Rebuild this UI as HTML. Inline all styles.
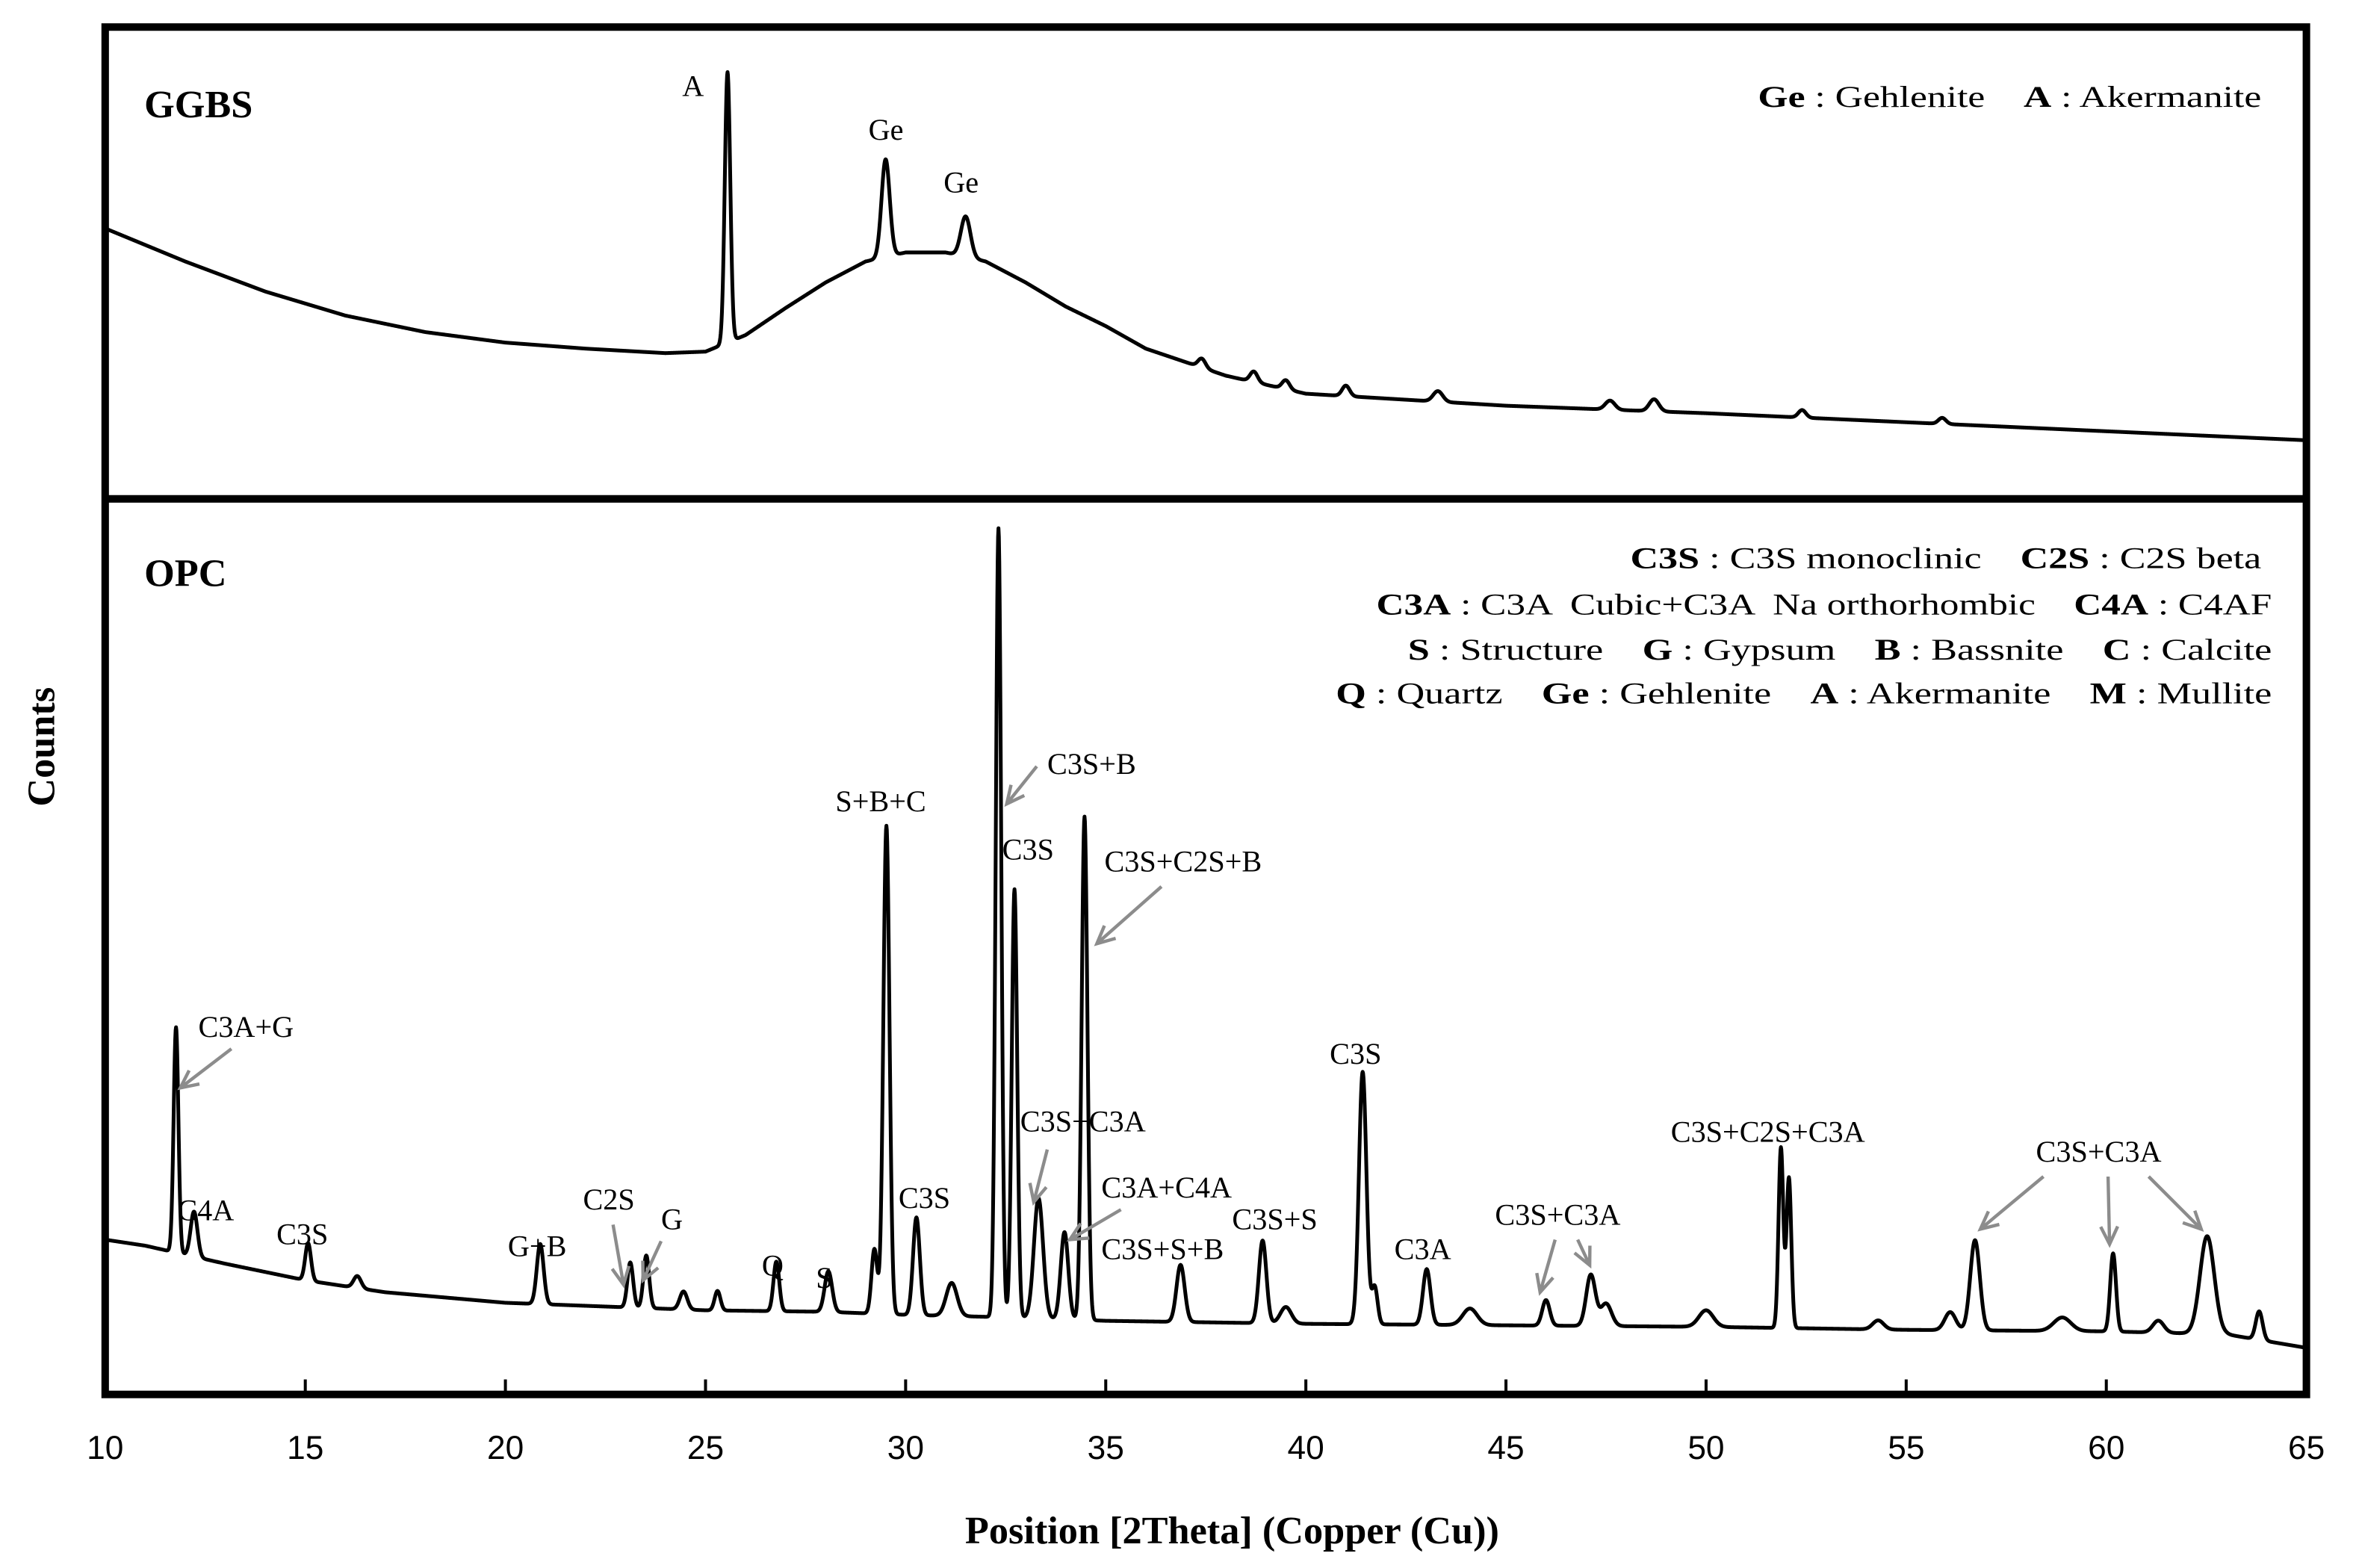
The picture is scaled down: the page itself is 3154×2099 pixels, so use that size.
<!DOCTYPE html>
<html><head><meta charset="utf-8"><style>
html,body{margin:0;padding:0;background:#fff}
svg{display:block}
text{font-family:"Liberation Serif",serif;fill:#000;white-space:pre}
</style></head><body>
<svg id="chart" width="3154" height="2099" viewBox="0 0 1568 1043.5" xmlns="http://www.w3.org/2000/svg" xml:space="preserve">
<g id="traces"></g>
<g id="arrows" stroke="#8c8c8c" stroke-width="2.2" fill="none"></g>
<rect x="70" y="18" width="1465" height="910" fill="none" stroke="#000" stroke-width="5"/>
<line x1="70" y1="332" x2="1535" y2="332" stroke="#000" stroke-width="5"/>
<g id="ticks"></g>
<text x="96" y="78" font-size="26" font-weight="bold">GGBS</text>
<text x="96" y="390" font-size="26" font-weight="bold">OPC</text>
<text x="1170" y="71" font-size="20" textLength="335" lengthAdjust="spacingAndGlyphs"><tspan font-weight="bold">Ge</tspan> : Gehlenite    <tspan font-weight="bold">A</tspan> : Akermanite</text>
<g font-size="20">
<text x="1085" y="378" textLength="420" lengthAdjust="spacingAndGlyphs"><tspan font-weight="bold">C3S</tspan> : C3S monoclinic    <tspan font-weight="bold">C2S</tspan> : C2S beta</text>
<text x="916" y="409" textLength="596" lengthAdjust="spacingAndGlyphs"><tspan font-weight="bold">C3A</tspan> : C3A  Cubic+C3A  Na orthorhombic    <tspan font-weight="bold">C4A</tspan> : C4AF</text>
<text x="937" y="439" textLength="575" lengthAdjust="spacingAndGlyphs"><tspan font-weight="bold">S</tspan> : Structure    <tspan font-weight="bold">G</tspan> : Gypsum    <tspan font-weight="bold">B</tspan> : Bassnite    <tspan font-weight="bold">C</tspan> : Calcite</text>
<text x="889" y="468" textLength="623" lengthAdjust="spacingAndGlyphs"><tspan font-weight="bold">Q</tspan> : Quartz    <tspan font-weight="bold">Ge</tspan> : Gehlenite    <tspan font-weight="bold">A</tspan> : Akermanite    <tspan font-weight="bold">M</tspan> : Mullite</text>
</g>
<g id="labels" font-size="20"></g>
<text x="820" y="1027" font-size="26" font-weight="bold" text-anchor="middle">Position [2Theta] (Copper (Cu))</text>
<text transform="translate(36,497) rotate(-90)" font-size="26" font-weight="bold" text-anchor="middle">Counts</text>
</svg>
<script>
// ---- data ----
const xTicks = [10,15,20,25,30,35,40,45,50,55,60,65];
const ggbsBaseX = [10,12,14,16,18,20,22,24,25,26,27,28,29,30,31,32,33,34,35,36,38,40,45,50,55,60,65];
const ggbsBaseY = [1780,1560,1360,1200,1090,1020,980,950,960,1070,1250,1420,1560,1620,1620,1560,1420,1260,1130,980,800,680,600,550,490,430,370];
const ggbsPeakX = [25.55,29.5,31.5,37.4,38.7,39.5,41.0,43.3,47.6,48.7,52.4,55.9];
const ggbsPeakH = [1800,650,270,60,70,60,70,70,60,80,50,40];
const ggbsPeakW = [0.16,0.24,0.28,0.22,0.22,0.22,0.22,0.28,0.28,0.28,0.22,0.22];
const opcBaseX = [10,11,12,13,15,17,20,23,25,28,30,33,35,40,45,50,55,60,63,65];
const opcBaseY = [800,760,700,640,530,450,380,350,330,320,300,280,260,240,230,220,200,190,170,80];
const opcPeakX = [11.77,12.22,15.07,16.3,20.87,23.12,23.52,24.45,25.3,26.77,28.07,29.22,29.52,30.27,31.15,32.32,32.72,33.32,33.97,34.47,36.87,38.92,39.5,41.42,41.72,43.02,44.1,46.0,47.12,47.5,50.0,51.87,52.07,54.3,56.1,56.72,58.9,60.17,61.3,62.52,63.82];
const opcPeakH = [1500,300,250,80,400,300,350,120,130,330,270,430,3250,650,220,5250,2850,800,580,3350,380,550,110,1680,250,370,110,170,340,150,110,1200,1000,60,120,600,90,520,80,650,190];
const opcPeakW = [0.14,0.2,0.17,0.22,0.2,0.17,0.17,0.22,0.17,0.17,0.22,0.17,0.18,0.2,0.32,0.16,0.16,0.27,0.22,0.17,0.24,0.22,0.32,0.22,0.17,0.22,0.42,0.22,0.27,0.32,0.42,0.14,0.14,0.32,0.32,0.28,0.5,0.17,0.32,0.42,0.2];
const labelText = ["A","Ge","Ge","C3A+G","C4A","C3S","G+B","C2S","G","Q","S","S+B+C","C3S","C3S+B","C3S","C3S+C2S+B","C3S+C3A","C3A+C4A","C3S+S+B","C3S+S","C3S","C3A","C3S+C3A","C3S+C2S+C3A","C3S+C3A"];
const labelX = [454,578,628,132,118,184,338,388,440,507,543,556,598,697,667,735,679,733,733,820,885,928,995,1112,1355];
const labelY = [64,93,128,690,812,828,836,805,818,849,857,540,804,515,572,580,753,797,838,818,708,838,815,760,773];
const arrowFrom = [[154,698],[408,815],[440,826],[690,510],[773,590],[697,765],[746,805],[1035,825],[1050,825],[1360,783],[1403,783],[1430,783]];
const arrowTo = [[120,724],[415,855],[428,852],[670,535],[730,628],[688,800],[712,825],[1025,860],[1058,842],[1318,818],[1404,828],[1465,818]];

// ---- axes ----
const xs = v => 70 + (v-10)*(1465/55);
const yG = c => 330 - c*0.1;
const yO = c => 905 - c*0.1;
const NS='http://www.w3.org/2000/svg';
function interp(xa,ya,x){for(let i=0;i<xa.length-1;i++){if(x<=xa[i+1]){const t=(x-xa[i])/(xa[i+1]-xa[i]);return ya[i]+t*(ya[i+1]-ya[i]);}}return ya[ya.length-1];}
function curve(bx,by,px,ph,pw,x){let v=interp(bx,by,x);for(let i=0;i<px.length;i++){const d=(x-px[i])/pw[i];v+=ph[i]*Math.exp(-4*Math.LN2*d*d);}return v;}
function trace(bx,by,px,ph,pw,ys,name){let d='';for(let x=10.02;x<=64.98;x+=0.01){d+=(d?'L':'M')+xs(x).toFixed(2)+','+ys(curve(bx,by,px,ph,pw,x)).toFixed(2);}
const p=document.createElementNS(NS,'path');p.setAttribute('d',d);p.setAttribute('fill','none');p.setAttribute('stroke','#000');p.setAttribute('stroke-width','2.5');p.setAttribute('stroke-linejoin','round');


document.getElementById('traces').appendChild(p);}
trace(ggbsBaseX,ggbsBaseY,ggbsPeakX,ggbsPeakH,ggbsPeakW,yG,'ggbs-trace');
trace(opcBaseX,opcBaseY,opcPeakX,opcPeakH,opcPeakW,yO,'opc-trace');

const tg=document.getElementById('ticks');
xTicks.forEach(t=>{
const l=document.createElementNS(NS,'line');l.setAttribute('x1',xs(t));l.setAttribute('x2',xs(t));l.setAttribute('y1',928);l.setAttribute('y2',918);l.setAttribute('stroke','#000');l.setAttribute('stroke-width','2');


tg.appendChild(l);
const tx=document.createElementNS(NS,'text');tx.setAttribute('x',xs(t));tx.setAttribute('y',971);tx.setAttribute('text-anchor','middle');tx.setAttribute('font-size','22');tx.setAttribute('style','font-family:"Liberation Sans",sans-serif');tx.textContent=t;


tg.appendChild(tx);});

const lg=document.getElementById('labels');
labelText.forEach((s,i)=>{const t=document.createElementNS(NS,'text');t.setAttribute('x',labelX[i]);t.setAttribute('y',labelY[i]);t.textContent=s;


lg.appendChild(t);});

const ag=document.getElementById('arrows');
arrowFrom.forEach((f,i)=>{const e=arrowTo[i];const ang=Math.atan2(e[1]-f[1],e[0]-f[0]);const L=13,a=0.45;
const d='M'+f[0]+','+f[1]+'L'+e[0]+','+e[1]+'M'+(e[0]-L*Math.cos(ang-a))+','+(e[1]-L*Math.sin(ang-a))+'L'+e[0]+','+e[1]+'L'+(e[0]-L*Math.cos(ang+a))+','+(e[1]-L*Math.sin(ang+a));
const p=document.createElementNS(NS,'path');p.setAttribute('d',d);


ag.appendChild(p);});
</script>
</body></html>
